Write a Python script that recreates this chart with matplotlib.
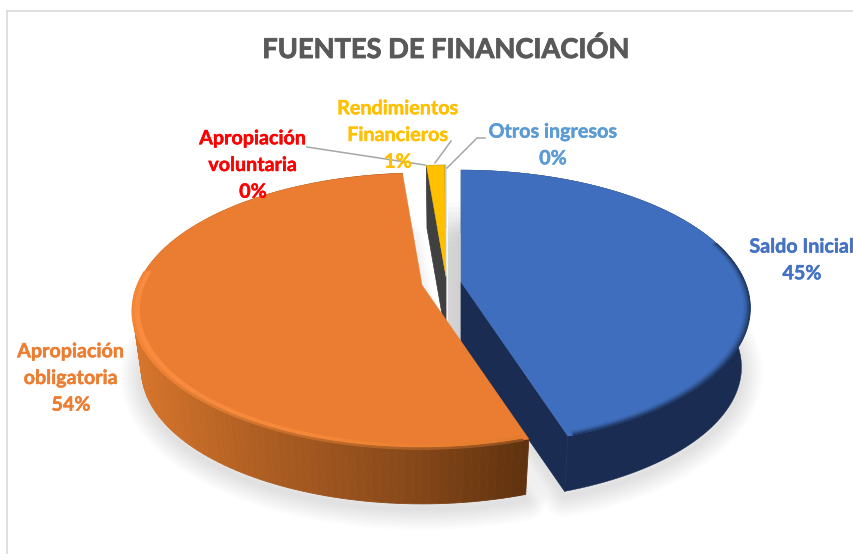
import numpy as np
import matplotlib
matplotlib.use('Agg')
import matplotlib.pyplot as plt
import matplotlib.patheffects as pe
from matplotlib.colors import to_rgb

# data, clockwise from 12 o'clock
categories = ['Saldo Inicial', 'Apropiación obligatoria', 'Apropiación voluntaria',
              'Rendimientos Financieros', 'Otros ingresos']
values = [45.0, 53.7, 0.0, 1.2, 0.1]
title = 'FUENTES DE FINANCIACIÓN'

# styles
top_colors = ['#3F6EBE', '#EA7D32', '#FF0000', '#FFC000', '#A9CCE8']
wall_colors = ['#1A2C52', '#5F3110', '#7F0000', '#404040', '#7F9DB8']
label_colors = ['#4472C4', '#ED7D31', '#FF0000', '#FFC000', '#5B9BD5']
label_text = ['Saldo Inicial', 'Apropiación\nobligatoria', 'Apropiación\nvoluntaria',
              'Rendimientos\nFinancieros', 'Otros ingresos']
label_pos = [(802, 260), (71, 378), (253, 165), (398, 135), (553, 145)]
leaders = [None, None,
           [(307, 147), (425, 165)],
           [(451, 141), (435, 163)],
           [(485, 138), (477, 138), (447, 168)]]

# layout in pixels
cx, cy = 447, 283
shift_x = [14, -25, 0, -1, -1]
shift_y = [-1, 2, -6, -6, -6]
A, B, P = 284, 133, 0.188   # perspective of the pie plane
depth, shrink = 60, 0.97    # wall height and narrowing of the lower plane

orange_stops_x = [131, 260, 400, 525]
orange_stops = ['#D9762C', '#AE5E22', '#8A4A1A', '#60320F']


def project(ang, r, i, lower=False):
    u = r*np.sin(np.radians(ang))
    v = r*np.cos(np.radians(ang))
    w = 1 + P*v
    s = shrink if lower else 1.0
    x = cx + shift_x[i] + s*A*u/w
    y = cy + shift_y[i] - s*B*v/w + (depth if lower else 0)
    return x, y


def grad(stops_x, stops, x):
    rgb = np.array([to_rgb(c) for c in stops])
    return [np.interp(x, stops_x, rgb[:, k]) for k in range(3)]


def quads(ax, a, i, r1, r2, low1, low2, colorfn, z):
    for k in range(len(a)-1):
        x1, y1 = project(a[k:k+2], r1, i, low1)
        x2, y2 = project(a[k:k+2], r2, i, low2)
        c = colorfn((x1.mean()+x2.mean())/2)
        ax.fill(np.r_[x1, x2[::-1]], np.r_[y1, y2[::-1]], color=c, lw=0.6, zorder=z)


def band(ax, a, i, r1, r2, c, z):
    x1, y1 = project(a, r1, i)
    x2, y2 = project(a, r2, i)
    ax.fill(np.r_[x1, x2[::-1]], np.r_[y1, y2[::-1]], color=c, lw=0, zorder=z)


fig = plt.figure(figsize=(8.54, 5.54), dpi=100)
ax = fig.add_axes([0, 0, 1, 1])
ax.set_xlim(0, 854)
ax.set_ylim(554, 0)
ax.axis('off')

plt.rcParams['font.family'] = ['Lato', 'DejaVu Sans']

# chart border
ax.plot([7, 7], [554, 11], color='#D9D9D9', lw=1.2)
ax.plot([7, 854], [11, 11], color='#D9D9D9', lw=1.2)

ends = np.cumsum(values)*3.6
starts = ends - np.array(values)*3.6

# soft shadow under the pie
for i in [0, 1]:
    a = np.linspace(starts[i], ends[i], 120)
    x, y = project(a, 1.0, i, True)
    x0, y0 = project(np.array([0.0]), 0.0, i, True)
    x = np.r_[x0, x, x0]
    y = np.r_[y0, y, y0] + 5
    for w in range(30, 0, -3):
        ax.plot(x, y, color='#808080', alpha=0.025, lw=w, zorder=1, solid_capstyle='round')

# grey band in the gap left of the blue slice
x0, y0 = project(np.array([0.0]), 0.0, 0)
for k in range(10):
    f = k/9
    ax.fill([x0[0]-13, x0[0], x0[0], x0[0]-13],
            [y0[0]-80+f*45, y0[0]-80+f*45, y0[0]+70, y0[0]+70],
            color='#C8C8C8', alpha=0.09, lw=0, zorder=2)

# back to front
order_z = {0: 3, 4: 4, 3: 5, 1: 6}
radial_ang = {0: ends[0], 3: starts[3]}
for i in [0, 4, 3, 1]:
    z = order_z[i]
    a = np.linspace(starts[i], ends[i], 140)
    # outer wall
    if i == 1:
        quads(ax, a, i, 1.0, 1.0, False, True,
              lambda x: grad(orange_stops_x, orange_stops, x), z)
    else:
        xt, yt = project(a, 1.0, i)
        xb, yb = project(a, 1.0, i, True)
        ax.fill(np.r_[xt, xb[::-1]], np.r_[yt, yb[::-1]], color=wall_colors[i], lw=0.3, zorder=z)
    # radial wall seen by the viewer
    if i in radial_ang:
        ra = np.array([radial_ang[i]])
        xa, ya = project(ra, 1.0, i)
        xb, yb = project(ra, 1.0, i, True)
        xc, yc = project(ra, 0.0, i, True)
        xd, yd = project(ra, 0.0, i)
        ax.fill([xa[0], xb[0], xc[0], xd[0]], [ya[0], yb[0], yc[0], yd[0]],
                color=wall_colors[i], lw=0.5, zorder=z)
    # top face
    x, y = project(a, 1.0, i)
    xc, yc = project(np.array([0.0]), 0.0, i)
    ax.fill(np.r_[xc, x], np.r_[yc, y], color=top_colors[i], lw=0.3, zorder=z)
    # bevel on the rim, only where it faces the viewer
    if i == 1:
        front = np.linspace(starts[1] + 1, 276, 120)
        quads(ax, front, 1, 0.978, 1.0, False, False,
              lambda x: grad([131, 300, 525], ['#FA8C40', '#F68839', '#E27A2C'], x), z)
        quads(ax, front, 1, 0.995, 1.003, False, False,
              lambda x: grad([131, 300, 525], ['#F58638', '#C46E2C', '#8F4E1E'], x), z)
    elif i == 0:
        front = np.linspace(72, ends[0] - 1, 120)
        band(ax, front, 0, 0.978, 1.0, '#3A66AE', z)
        band(ax, front, 0, 0.984, 1.0, '#345B9C', z)
        band(ax, front, 0, 0.990, 1.0, '#2A4A82', z)
        band(ax, front, 0, 0.996, 1.002, '#203A68', z)

# labels
stroke = lambda c, w: [pe.withStroke(linewidth=w, foreground=c)]
ax.text(446.5, 49.5, title, color='#595959', fontsize=19.6, fontweight='bold',
        ha='center', va='center', zorder=10, path_effects=stroke('#595959', 0.6))
for i, cat in enumerate(categories):
    s = label_text[i] + '\n%d%%' % round(values[i])
    ax.text(label_pos[i][0], label_pos[i][1], s, color=label_colors[i], fontsize=14.2,
            fontweight='bold', ha='center', va='center', linespacing=1.42, zorder=10,
            clip_on=True, path_effects=stroke(label_colors[i], 0.3))
    if leaders[i] is not None:
        ax.plot([p[0] for p in leaders[i]], [p[1] for p in leaders[i]],
                color='#A6A6A6', lw=1.1, zorder=9)

fig.savefig('out.png', dpi=100)
